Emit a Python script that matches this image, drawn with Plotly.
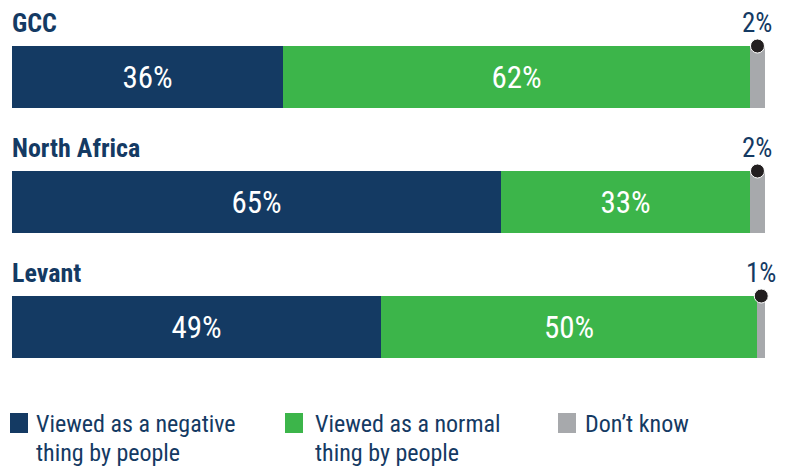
import plotly.graph_objects as go

# ---------------- data ----------------
regions = ["GCC", "North Africa", "Levant"]
negative = [36, 65, 49]
normal = [62, 33, 50]
dont_know = [2, 2, 1]
series_names = [
    "Viewed as a negative\nthing by people",
    "Viewed as a normal\nthing by people",
    "Don’t know",
]
series_colors = ["#143a63", "#3cb54a", "#a7a9ac"]
series_values = [negative, normal, dont_know]

# ---------------- styling ----------------
FONT = "Roboto Condensed"
NAVY = "#143a63"
OFF = 8                     # page body margin in the browser
FW, FH = 789 - OFF, 466 - OFF
L, R, T, B = 12 - OFF, 789 - 765, 0, 0
UNIT = 125.0                # pixels per category step
TOP_CENTER = 77.0 - OFF     # figure-pixel y of first bar centre
BAR_W = 62 / UNIT


def px_x(px):
    """reference-pixel x -> paper x"""
    return (px - OFF - L) / (FW - L - R)


def px_y(py):
    """reference-pixel y -> paper y"""
    return 1 - (py - OFF) / FH


ypos = list(range(len(regions)))
fig = go.Figure()

for vals, color, name, show_text in zip(series_values, series_colors, series_names, [True, True, False]):
    fig.add_trace(go.Bar(
        y=ypos, x=vals, orientation="h", name=name.replace("\n", " "),
        marker=dict(color=color, line=dict(width=0)),
        width=BAR_W,
        text=[f"{v}%" for v in vals] if show_text else None,
        textposition="inside" if show_text else "none",
        insidetextanchor="middle",
        textangle=0,
        constraintext="none",
        textfont=dict(color="white", size=31, family=FONT),
        hoverinfo="skip", showlegend=False,
    ))

# black dots on top of the "don't know" segment
dot_x = [100 - d / 2 for d in dont_know]
fig.add_trace(go.Scatter(
    x=dot_x, y=[i - BAR_W / 2 for i in ypos], mode="markers",
    marker=dict(size=14, color="#231f20", line=dict(color="white", width=1)),
    cliponaxis=False, hoverinfo="skip", showlegend=False,
))

annotations = []
# small % labels above dots
for i, (d, x) in enumerate(zip(dont_know, dot_x)):
    annotations.append(dict(
        x=x, y=i - 0.43, xref="x", yref="y", text=f"{d}%", showarrow=False,
        xanchor="center", yanchor="middle", borderpad=0,
        font=dict(size=27, color=NAVY, family=FONT),
    ))
# region labels
for i, reg in enumerate(regions):
    annotations.append(dict(
        x=0, y=i - 0.43, xref="x", yref="y", text=reg, showarrow=False,
        xanchor="left", yanchor="middle", xshift=-2,
        font=dict(size=26, color=NAVY, family=FONT, weight="bold"),
    ))

# manual legend
shapes = []
legend_sq = [10, 285, 558]
legend_tx = [37, 316, 586]
for sx, tx, name, color in zip(legend_sq, legend_tx, series_names, series_colors):
    shapes.append(dict(
        type="rect", xref="paper", yref="paper",
        x0=px_x(sx), x1=px_x(sx + 18), y0=px_y(433), y1=px_y(413),
        fillcolor=color, line=dict(width=0),
    ))
    for k, line in enumerate(name.split("\n")):
        annotations.append(dict(
            x=px_x(tx - 3), y=px_y(424 + 29 * k), xref="paper", yref="paper",
            text=line, showarrow=False, xanchor="left", yanchor="middle",
            font=dict(size=24, color=NAVY, family=FONT),
        ))

y_top = -TOP_CENTER / UNIT
y_bot = (FH - TOP_CENTER) / UNIT

fig.update_layout(
    width=FW, height=FH,
    margin=dict(l=L, r=R, t=T, b=B),
    paper_bgcolor="white", plot_bgcolor="white",
    barmode="stack", bargap=0,
    xaxis=dict(range=[0, 100], visible=False, fixedrange=True),
    yaxis=dict(range=[y_bot, y_top], visible=False, fixedrange=True),
    annotations=annotations, shapes=shapes,
    font=dict(family=FONT, color=NAVY),
    showlegend=False,
)

fig.write_html("out.html")
